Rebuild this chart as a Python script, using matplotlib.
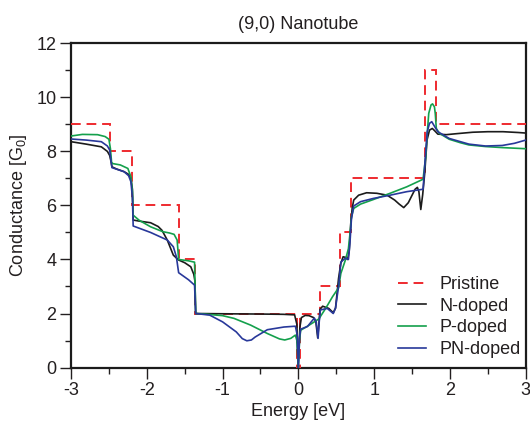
import numpy as np
import matplotlib
matplotlib.use("Agg")
import matplotlib.pyplot as plt
from matplotlib.ticker import MultipleLocator

plt.rcParams['font.family'] = ['Liberation Sans', 'DejaVu Sans']
plt.rcParams['mathtext.fontset'] = 'custom'
plt.rcParams['mathtext.rm'] = 'Liberation Sans'
plt.rcParams['axes.unicode_minus'] = False

### --- data --- ###

# pristine tube: step function (edges in eV, level in G0)
pristine_edges = [-3.0, -2.48, -2.2, -1.58, -1.36, -0.015, 0.015, 0.29, 0.55, 0.69, 1.67, 1.81, 3.0]
pristine_vals = [9, 8, 6, 4, 2, 0, 2, 3, 5, 7, 11, 9]

n_E = [-3.0, -2.8, -2.6, -2.52, -2.49, -2.47, -2.46, -2.40, -2.30, -2.24, -2.21, -2.19, -2.18,
       -2.10, -1.95, -1.85, -1.80, -1.73, -1.65, -1.58, -1.50, -1.42, -1.38, -1.365, -1.355,
       -1.0, -0.5, -0.2, -0.05, -0.02, -0.005, 0.02, 0.04, 0.09, 0.14, 0.20, 0.23, 0.255,
       0.27, 0.285, 0.32, 0.40, 0.46, 0.49, 0.53, 0.56, 0.59, 0.62, 0.65, 0.67, 0.69, 0.71,
       0.73, 0.795, 0.9, 1.035, 1.17, 1.27, 1.33, 1.39, 1.45, 1.50, 1.54, 1.57, 1.59, 1.615,
       1.64, 1.667, 1.697, 1.73, 1.767, 1.80, 1.84, 1.95, 2.10, 2.3, 2.5, 2.7, 2.9, 3.0]
n_G = [8.36, 8.27, 8.17, 8.0, 7.85, 7.6, 7.43, 7.35, 7.25, 7.15, 7.0, 6.6, 5.46,
       5.42, 5.36, 5.22, 5.08, 4.72, 4.16, 3.98, 3.88, 3.73, 3.45, 3.2, 2.0,
       1.99, 1.98, 1.97, 1.95, 1.6, 0.0, 1.5, 1.85, 1.93, 1.92, 1.85, 1.7, 1.1,
       1.6, 2.15, 2.27, 2.19, 2.03, 2.2, 3.3, 3.86, 4.1, 4.08, 4.0, 4.3, 5.3, 5.9,
       6.2, 6.38, 6.47, 6.45, 6.38, 6.2, 6.05, 5.92, 6.1, 6.38, 6.6, 6.67, 6.51, 5.85,
       6.4, 7.2, 8.42, 8.79, 8.85, 8.76, 8.64, 8.62, 8.66, 8.71, 8.73, 8.73, 8.7, 8.68]

p_E = [-3.0, -2.85, -2.65, -2.55, -2.50, -2.48, -2.465, -2.45, -2.35, -2.25, -2.21, -2.19, -2.18,
       -2.10, -1.95, -1.79, -1.70, -1.64, -1.60, -1.58, -1.45, -1.37, -1.355, -1.2, -1.0,
       -0.85, -0.63, -0.41, -0.25, -0.18, -0.10, -0.04, -0.02, 0.0, 0.015, 0.03, 0.12, 0.21,
       0.27, 0.36, 0.45, 0.53, 0.56, 0.62, 0.66, 0.69, 0.70, 0.73, 0.82, 0.99, 1.21, 1.43,
       1.645, 1.68, 1.70, 1.72, 1.75, 1.77, 1.795, 1.806, 1.82, 1.86, 1.99, 2.14, 2.25, 2.47,
       2.7, 3.0]
p_G = [8.57, 8.63, 8.62, 8.55, 8.45, 8.1, 7.6, 7.55, 7.5, 7.37, 7.06, 6.5, 5.64,
       5.45, 5.21, 5.03, 4.98, 4.93, 4.72, 4.0, 3.95, 3.9, 2.0, 1.97, 1.92,
       1.82, 1.57, 1.26, 1.06, 1.02, 1.08, 1.2, 1.0, 0.0, 1.0, 1.38, 1.53, 1.69,
       1.8, 2.19, 2.62, 2.95, 3.48, 3.98, 4.4, 5.2, 5.58, 5.89, 6.05, 6.22, 6.45, 6.69,
       6.97, 7.8, 8.67, 9.41, 9.72, 9.76, 9.65, 9.4, 8.85, 8.67, 8.45, 8.32, 8.24, 8.18,
       8.14, 8.1]

pn_E = [-3.0, -2.8, -2.6, -2.52, -2.49, -2.47, -2.46, -2.30, -2.24, -2.21, -2.19, -2.18,
        -1.95, -1.73, -1.65, -1.61, -1.58, -1.45, -1.37, -1.355, -1.17, -1.0, -0.82, -0.74,
        -0.68, -0.62, -0.57, -0.41, -0.19, -0.04, -0.015, 0.0, 0.015, 0.03, 0.12, 0.21, 0.235,
        0.26, 0.275, 0.29, 0.38, 0.46, 0.49, 0.53, 0.56, 0.62, 0.66, 0.68, 0.70, 0.73, 0.82,
        0.99, 1.21, 1.43, 1.645, 1.67, 1.70, 1.73, 1.76, 1.80, 1.84, 1.99, 2.25, 2.47, 2.69,
        2.85, 3.0]
pn_G = [8.46, 8.42, 8.36, 8.2, 8.05, 7.6, 7.4, 7.25, 7.1, 6.88, 6.3, 5.24,
        5.0, 4.72, 4.47, 4.1, 3.51, 3.25, 3.05, 2.0, 1.94, 1.69, 1.32, 1.07,
        0.99, 1.02, 1.13, 1.40, 1.50, 1.53, 1.2, 0.0, 1.1, 1.42, 1.52, 1.83, 1.7,
        1.08, 1.7, 2.13, 2.19, 2.0, 2.2, 3.0, 3.9, 4.05, 4.0, 4.6, 5.5, 5.98, 6.14,
        6.26, 6.38, 6.51, 6.6, 7.6, 8.73, 9.04, 9.1, 8.91, 8.73, 8.48, 8.27, 8.2, 8.22,
        8.3, 8.42]

### --- plot --- ###

fig = plt.figure(figsize=(5.3, 4.21), dpi=100)
ax = fig.add_axes([0.134, 0.127, 0.858, 0.77])

txtc = '#231f20'
ax.stairs(pristine_vals, pristine_edges, baseline=None, color='#ee2a2f',
          lw=1.4, ls=(0, (5, 3)), label='Pristine', zorder=3)
ax.plot(n_E, n_G, color='#1b1b1b', lw=1.2, label='N-doped', zorder=4)
ax.plot(p_E, p_G, color='#14a04c', lw=1.2, label='P-doped', zorder=4)
ax.plot(pn_E, pn_G, color='#28389a', lw=1.2, label='PN-doped', zorder=5)

ax.set_xlim(-3, 3)
ax.set_ylim(0, 12)
ax.xaxis.set_major_locator(MultipleLocator(1))
ax.xaxis.set_minor_locator(MultipleLocator(0.5))
ax.yaxis.set_major_locator(MultipleLocator(2))
ax.yaxis.set_minor_locator(MultipleLocator(1))
ax.tick_params(which='major', direction='out', length=8, width=1, labelsize=13,
               colors=txtc, pad=2.5)
ax.tick_params(which='minor', direction='out', length=4, width=1, colors=txtc)

for s in ax.spines.values():
    s.set_linewidth(1.6)
    s.set_color('#1b1b1b')

ax.set_title('(9,0) Nanotube', fontsize=13, color=txtc, pad=10)
ax.set_xlabel('Energy [eV]', fontsize=13, color=txtc, labelpad=3)
ax.set_ylabel(r'Conductance [G$\mathregular{_0}$]', fontsize=13, color=txtc, labelpad=5)

leg = ax.legend(loc='lower right', bbox_to_anchor=(1.0, 0.016), frameon=False, fontsize=13,
                handlelength=1.5, handletextpad=0.8, labelspacing=0.25, borderpad=0.1,
                borderaxespad=0.15)
for t in leg.get_texts():
    t.set_color(txtc)

fig.savefig('out.png', dpi=100)
